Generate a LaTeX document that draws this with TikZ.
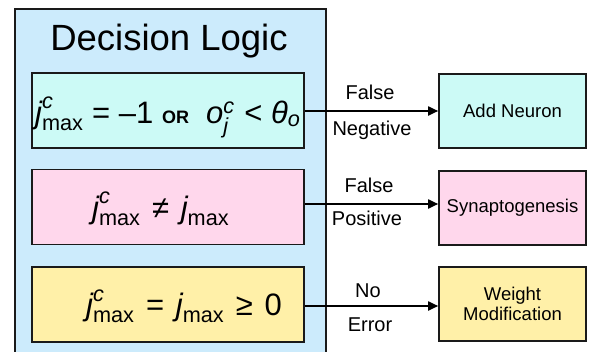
\documentclass[tikz,border=0pt]{standalone}
\usepackage{fontspec}
\usepackage{amsmath}
\setmainfont{Liberation Sans}
\usetikzlibrary{arrows.meta}

\definecolor{panelblue}{HTML}{CCEBFC}
\definecolor{condcyan}{HTML}{CCFAF6}
\definecolor{condpink}{HTML}{FFD7EC}
\definecolor{condyellow}{HTML}{FFF0A8}
\definecolor{edge}{HTML}{1A1A1A}

% j^c_max and friends, set in the sans text font
\newcommand\jcmax{$\text{\itshape j}^{\text{\itshape c}}_{\text{max}}$}
\newcommand\jplainmax{$\text{\itshape j}_{\text{max}}$}
\newcommand\ocj{$\text{\itshape o}^{\text{\itshape c}}_{\text{\itshape j}}$}
\newcommand\thetao{$\text{\itshape θ}_{\text{\itshape o}}$}

\tikzset{
  cond/.style={draw=edge, line width=1.6pt, minimum width=272pt, minimum height=75pt, inner sep=0pt},
  action/.style={draw=edge, line width=1.6pt, minimum width=147pt, minimum height=74pt, inner sep=0pt,
    align=center, font=\fontsize{18.5}{20.5}\selectfont},
  formula/.style={anchor=base west, inner sep=0pt, font=\fontsize{31}{37}\selectfont},
  edgelabel/.style={anchor=base, inner sep=0pt, font=\fontsize{20}{22}\selectfont},
  flow/.style={line width=1.8pt, draw=black, -{Triangle[length=10pt,width=9pt]}},
}

\begin{document}
\begin{tikzpicture}[x=1pt,y=-1pt]
\useasboundingbox (0,0) rectangle (589,351);
\begin{scope}
  \clip (0,0) rectangle (589,351);
  % outer panel
  \node[draw=edge, fill=panelblue, line width=2.2pt, minimum width=311pt, minimum height=360pt,
        inner sep=0pt, anchor=north west] (panel) at (14,8) {};
\end{scope}
\node[anchor=base, inner sep=0pt, font=\fontsize{36.5}{42}\selectfont] (title) at (169,50) {Decision Logic};

% condition boxes
\node[cond, fill=condcyan]   (c1) at (168,110.5) {};
\node[cond, fill=condpink]   (c2) at (168,207)   {};
\node[cond, fill=condyellow] (c3) at (168,304.5) {};

\node[formula] (f1) at (35,123)
  {\jcmax\ = –1 {\fontsize{18}{20}\selectfont\bfseries OR}\ \ \ocj\ \kern1pt<\ \thetao};
\node[formula] (f2) at (92,218) {\jcmax\ \kern3pt≠\kern3pt\ \jplainmax};
\node[formula] (f3) at (86,315.5) {\jcmax\ \kern3pt=\kern3pt\ \jplainmax\ \kern3pt≥\kern3pt\ 0};

% action boxes
\node[action, fill=condcyan]   (a1) at (512.5,111) {\raisebox{-3pt}{Add Neuron}};
\node[action, fill=condpink]   (a2) at (512.5,208) {\raisebox{-2pt}{Synaptogenesis}};
\node[action, fill=condyellow] (a3) at (512.5,304) {Weight\\Modification};

% connectors
\draw[flow] (c1.east |- 0,111) -- (a1.west |- 0,111);
\draw[flow] (c2.east |- 0,204) -- (a2.west |- 0,204);
\draw[flow] (c3.east |- 0,306) -- (a3.west |- 0,306);

% connector labels
\node[edgelabel] (l1a) at (370,99)    {False};
\node[edgelabel] (l1b) at (372,135)   {Negative};
\node[edgelabel] (l2a) at (369,192.7) {False};
\node[edgelabel] (l2b) at (367,225.7) {Positive};
\node[edgelabel] (l3a) at (368,297.7) {No};
\node[edgelabel] (l3b) at (370,331.7) {Error};
\end{tikzpicture}
\end{document}
